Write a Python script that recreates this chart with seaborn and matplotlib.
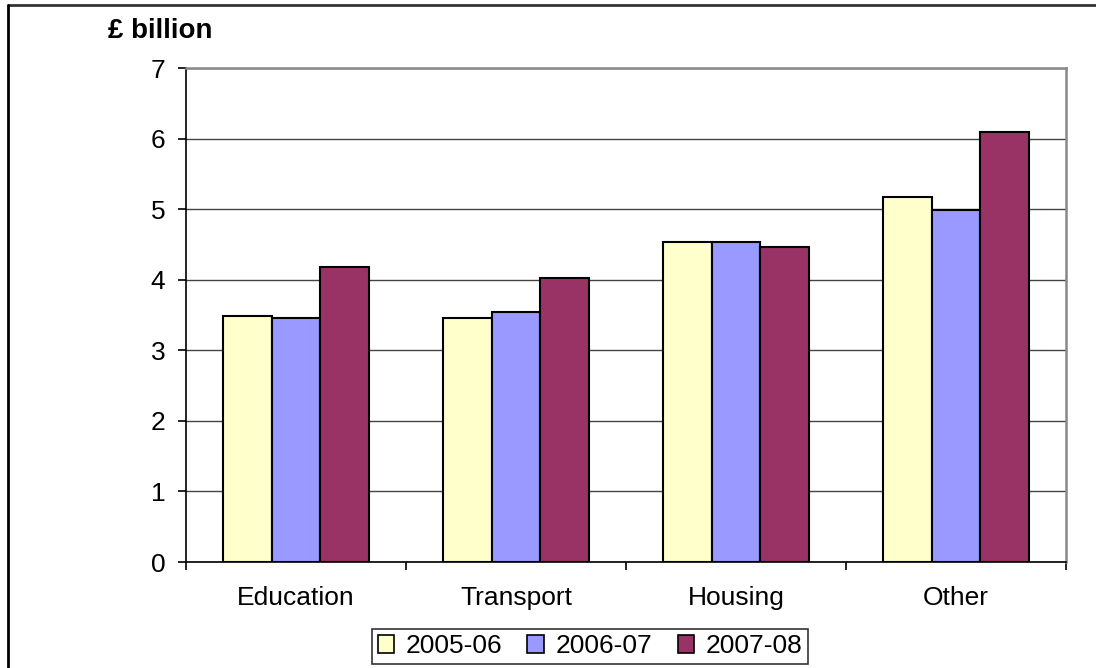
import matplotlib
matplotlib.use("Agg")
import matplotlib.pyplot as plt
import seaborn as sns
import pandas as pd
from matplotlib.lines import Line2D
from matplotlib.ticker import FixedLocator

categories = ["Education", "Transport", "Housing", "Other"]
years = ["2005-06", "2006-07", "2007-08"]
v2005 = [3.49, 3.46, 4.54, 5.17]
v2006 = [3.46, 3.54, 4.54, 4.99]
v2007 = [4.18, 4.03, 4.47, 6.09]
colors = ["#FFFFCC", "#9999FF", "#993366"]
yticks = [0, 1, 2, 3, 4, 5, 6, 7]

rows = []
for yr, vals in zip(years, [v2005, v2006, v2007]):
    for c, v in zip(categories, vals):
        rows.append({"category": c, "year": yr, "value": v})
df = pd.DataFrame(rows)

sns.set_theme(style="white")
plt.rcParams["font.family"] = ["Liberation Sans", "DejaVu Sans"]
plt.rcParams["text.color"] = "black"
plt.rcParams["xtick.color"] = "black"
plt.rcParams["ytick.color"] = "black"

FS = 19

fig = plt.figure(figsize=(10.96, 6.68), dpi=100)
ax = fig.add_axes([186 / 1096, 1 - 562 / 668, 880 / 1096, 494 / 668])

sns.barplot(data=df, x="category", y="value", hue="year", order=categories,
            hue_order=years, palette=colors, saturation=1, width=0.668,
            edgecolor="black", linewidth=1.5, ax=ax, legend=True)

ax.set_ylim(0, 7)
ax.set_xlim(-0.5, 3.5)
ax.set_yticks(yticks)
ax.set_yticklabels([str(t) for t in yticks], fontsize=FS)
ax.set_xlabel("")
ax.set_ylabel("")
ax.yaxis.grid(True, color="#444444", linewidth=1.0)
ax.set_axisbelow(True)

for s in ["left", "bottom"]:
    ax.spines[s].set_color("black")
    ax.spines[s].set_linewidth(1.2)
for s in ["top", "right"]:
    ax.spines[s].set_visible(True)
    ax.spines[s].set_color("#888888")
    ax.spines[s].set_linewidth(1.8)

ax.tick_params(axis="y", which="major", direction="out", length=6, width=1.2,
               color="black", labelcolor="black", pad=9, left=True, labelsize=FS)
ax.tick_params(axis="x", which="major", length=0, pad=17, labelsize=FS,
               labelcolor="black")
ax.xaxis.set_minor_locator(FixedLocator([-0.5, 0.5, 1.5, 2.5, 3.5]))
ax.tick_params(axis="x", which="minor", direction="out", length=6, width=1.2,
               color="black", bottom=True)

ax.get_legend().remove()
handles = [plt.Rectangle((0, 0), 1, 1, facecolor=c, edgecolor="black", linewidth=1.2)
           for c in colors]
leg = fig.legend(handles, years, loc="upper center",
                 bbox_to_anchor=(590 / 1096, 1 - 629 / 668), ncol=3,
                 fontsize=FS, frameon=True, fancybox=False, edgecolor="black",
                 handlelength=0.62, handleheight=0.62, handletextpad=0.45,
                 columnspacing=0.95, borderpad=0.2, borderaxespad=0)
leg.get_frame().set_linewidth(1.2)
for t in leg.get_texts():
    t.set_color("black")

fig.text(108 / 1096, 1 - 31 / 668, "£ billion", fontsize=20, fontweight="bold",
         ha="left", va="center", color="black")

# outer chart frame
fig.add_artist(Line2D([8 / 1096, 1.0], [1 - 5 / 668, 1 - 5 / 668],
                      transform=fig.transFigure, color="#333333", linewidth=2))
fig.add_artist(Line2D([8 / 1096, 8 / 1096], [1 - 5 / 668, 0.0],
                      transform=fig.transFigure, color="black", linewidth=2))

fig.savefig("out.png", dpi=100)
